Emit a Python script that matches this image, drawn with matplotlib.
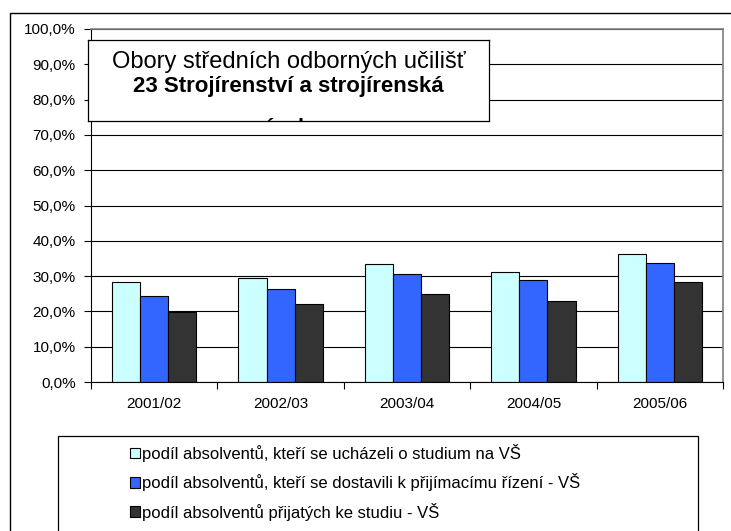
import matplotlib
matplotlib.use("Agg")
import matplotlib.pyplot as plt
import numpy as np
from matplotlib.patches import Rectangle, Patch
from matplotlib.ticker import FuncFormatter, MultipleLocator

categories = ["2001/02", "2002/03", "2003/04", "2004/05", "2005/06"]
applied = [28.4, 29.6, 33.3, 31.2, 36.4]
attended = [24.4, 26.4, 30.5, 28.9, 33.6]
admitted = [19.7, 22.1, 24.8, 23.0, 28.4]
series_labels = [
    "podíl absolventů, kteří se ucházeli o studium na VŠ",
    "podíl absolventů, kteří se dostavili k přijímacímu řízení - VŠ",
    "podíl absolventů přijatých ke studiu - VŠ",
]
colors = ["#CCFFFF", "#3366FF", "#333333"]

plt.rcParams['font.family'] = ['Liberation Sans', 'DejaVu Sans']

W, H = 731, 531
fig = plt.figure(figsize=(W / 100, H / 100), dpi=100)

def fx(px):
    return px / W

def fy(py):
    return 1 - py / H

# outer chart frame
fig.patches.append(Rectangle((fx(10), fy(545)), fx(735) - fx(10), fy(12.7) - fy(545),
                             transform=fig.transFigure, fill=False, edgecolor='black',
                             linewidth=1.0, clip_on=False))

ax = fig.add_axes([fx(91), fy(382), fx(723) - fx(91), fy(29) - fy(382)])
x = np.arange(len(categories))
w = 1 / 4.5
for i, (vals, c) in enumerate(zip([applied, attended, admitted], colors)):
    ax.bar(x + (i - 1) * w, vals, width=w, color=c, edgecolor='black', linewidth=0.8, zorder=3)

ax.set_xlim(-0.5, len(categories) - 0.5)
ax.set_ylim(0, 100)
ax.yaxis.set_major_locator(MultipleLocator(10))
ax.yaxis.set_major_formatter(FuncFormatter(lambda v, p: f"{v:.1f}".replace('.', ',') + "%"))
ax.set_xticks(x)
ax.set_xticklabels(categories)
ax.set_xticks(np.arange(len(categories) + 1) - 0.5, minor=True)
ax.tick_params(axis='x', which='major', length=0, pad=11, labelsize=11)
ax.tick_params(axis='x', which='minor', length=5, width=0.8, direction='out')
ax.tick_params(axis='y', length=5, width=0.8, direction='out', labelsize=11, pad=6)
ax.grid(axis='y', color='black', linewidth=0.8, zorder=0)
for s in ['top', 'right']:
    ax.spines[s].set_color('#808080')
    ax.spines[s].set_linewidth(1.2)
    ax.spines[s].set_zorder(5)
for s in ['left', 'bottom']:
    ax.spines[s].set_color('black')
    ax.spines[s].set_linewidth(0.8)
    ax.spines[s].set_zorder(5)

# title box as its own axes so the third line gets clipped by it
bx0, by0, bx1, by1 = 88, 40, 489, 121
tax = fig.add_axes([fx(bx0), fy(by1), fx(bx1) - fx(bx0), fy(by0) - fy(by1)], zorder=10)
tax.set_xlim(0, 1)
tax.set_ylim(by1, by0)
tax.set_xticks([])
tax.set_yticks([])
for s in tax.spines.values():
    s.set_linewidth(0.9)
    s.set_color('black')
tax.text(0.5, 62, "Obory středních odborných učilišť", ha='center', va='center',
         fontsize=17)
tax.text(0.5, 87, "23 Strojírenství a strojírenská", ha='center', va='center',
         fontsize=16, fontweight='bold')
tax.text(0.5, 134, "výroba", ha='center', va='baseline',
         fontsize=16, fontweight='bold', clip_on=True)

# legend frame
fig.patches.append(Rectangle((fx(58), fy(545)), fx(698) - fx(58), fy(436) - fy(545),
                             transform=fig.transFigure, facecolor='white', edgecolor='black',
                             linewidth=0.9, clip_on=False))
handles = [Patch(facecolor=c, edgecolor='black', linewidth=0.8) for c in colors]
fig.legend(handles, series_labels, loc='upper left', bbox_to_anchor=(fx(130), fy(444)),
           frameon=False, fontsize=12, handlelength=0.6, handleheight=0.6,
           handletextpad=0.15, labelspacing=0.68, borderpad=0, borderaxespad=0)

fig.savefig("out.png", dpi=100)
